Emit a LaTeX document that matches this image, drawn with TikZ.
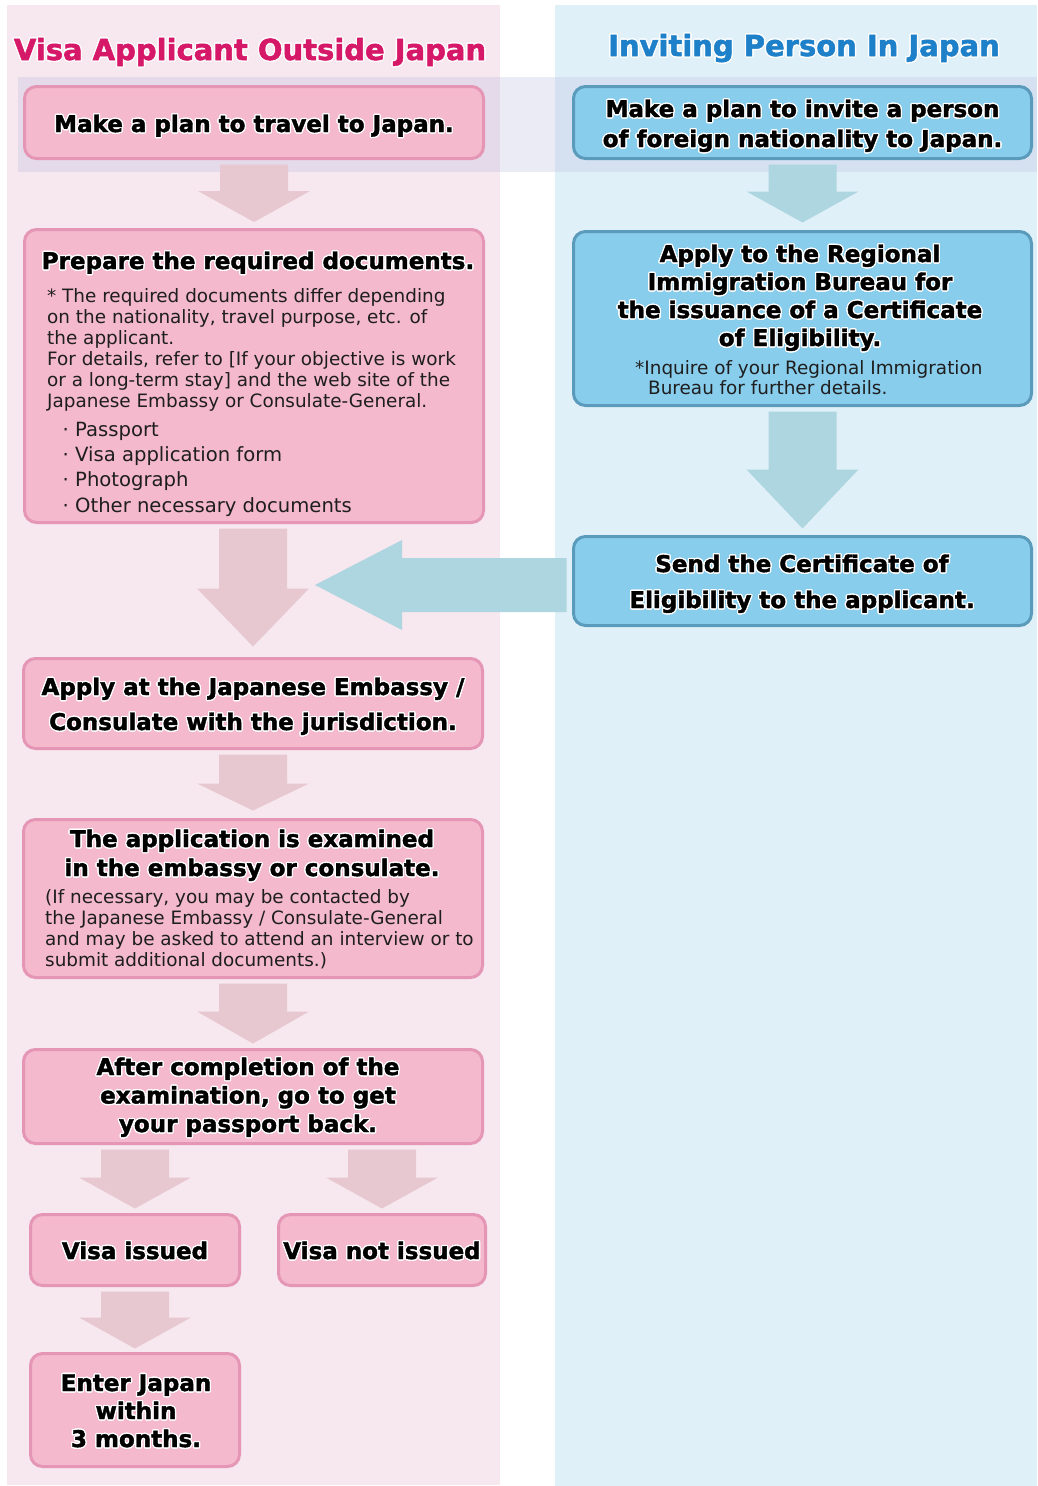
\documentclass[tikz,border=0pt]{standalone}
\usepackage{fontspec}
\setmainfont{DejaVu Sans}[BoldFeatures={FakeBold=1.8}]
\usepackage[copies]{contour}
\contourlength{1.3pt}
\contournumber{16}
\usetikzlibrary{calc}

\definecolor{pinkbg}{RGB}{247,231,238}
\definecolor{bluebg}{RGB}{224,240,248}
\definecolor{pinkbox}{RGB}{244,185,205}
\definecolor{pinkedge}{RGB}{228,150,180}
\definecolor{bluebox}{RGB}{137,205,237}
\definecolor{blueedge}{RGB}{90,155,188}
\definecolor{pinkarrow}{RGB}{232,200,208}
\definecolor{bluearrow}{RGB}{174,214,224}
\definecolor{titlepink}{RGB}{214,24,104}
\definecolor{titleblue}{RGB}{30,128,200}
\definecolor{bandtint}{RGB}{190,190,225}
\definecolor{notegray}{RGB}{30,30,30}

% white halo around bold lettering
\newcommand\halo[1]{\contour{white}{#1}}
% katakana-style middle dot in front of list items
\newcommand\dotitem{\makebox[19pt][c]{·}}

% downward block arrow from one box to the next
% #1 colour, #2 source node, #3 target node, #4 gap before target, #5 head length
\newcommand\flowdown[5]{%
  \fill[#1] let \p1=(#2.south), \p2=(#3.north) in
    (\x2-34pt,\y1-4.5pt) -- (\x2+34pt,\y1-4.5pt) -- (\x2+34pt,\y2+#4+#5)
    -- (\x2+56pt,\y2+#4+#5) -- (\x2,\y2+#4) -- (\x2-56pt,\y2+#4+#5)
    -- (\x2-34pt,\y2+#4+#5) -- cycle;}

\begin{document}
\begin{tikzpicture}[x=1pt,y=-1pt,
  stepbox/.style={draw, line width=3pt, rounded corners=12pt, inner sep=0pt},
  pinkstep/.style={stepbox, fill=pinkbox, draw=pinkedge},
  bluestep/.style={stepbox, fill=bluebox, draw=blueedge},
  % multi-line texts are placed by the baseline of their last line
  headtext/.style={font=\fontsize{23}{#1}\selectfont\bfseries, align=center, inner sep=0pt, anchor=base},
  headtext/.default=29,
  smalltext/.style={font=\fontsize{18.4}{#1}\selectfont, text=notegray, align=left, inner sep=0pt, anchor=base west},
  smalltext/.default=21,
  bulletlist/.style={font=\fontsize{19.6}{25.3}\selectfont, text=notegray, align=left, inner sep=0pt, anchor=base west},
  paneltitle/.style={font=\fontsize{29}{34}\selectfont\bfseries, inner sep=0pt, anchor=base}]

\useasboundingbox (0,0) rectangle (1037,1486);

% panels and the shared first row band
\fill[white] (0,0) rectangle (1037,1486);
\fill[pinkbg] (7,5) rectangle (500,1485);
\fill[bluebg] (555,5) rectangle (1037,1486);
\fill[bandtint, opacity=0.3] (18,77) rectangle (1037,172);

% column titles
\node[paneltitle, text=titlepink] (ltitle) at (250,60) {\halo{Visa Applicant Outside Japan}};
\node[paneltitle, text=titleblue] (rtitle) at (804,56) {\halo{Inviting Person In Japan}};

% applicant column boxes
\node[pinkstep, minimum width=459, minimum height=72]  (plan)    at (254,122.5) {};
\node[pinkstep, minimum width=459, minimum height=293] (docs)    at (254,376) {};
\node[pinkstep, minimum width=459, minimum height=90]  (apply)   at (253,703.5) {};
\node[pinkstep, minimum width=459, minimum height=158] (exam)    at (253,898.5) {};
\node[pinkstep, minimum width=459, minimum height=94]  (done)    at (253,1096.5) {};
\node[pinkstep, minimum width=209, minimum height=71]  (issued)  at (135,1250) {};
\node[pinkstep, minimum width=207, minimum height=71]  (refused) at (382,1250) {};
\node[pinkstep, minimum width=209, minimum height=113] (enter)   at (135,1410) {};

% inviting person column boxes
\node[bluestep, minimum width=458, minimum height=72]  (invite) at (802.5,122.5) {};
\node[bluestep, minimum width=458, minimum height=174] (coe)    at (802.5,318.5) {};
\node[bluestep, minimum width=458, minimum height=89]  (send)   at (802.5,581) {};

% flow arrows
\flowdown{pinkarrow}{plan}{docs}{6pt}{31pt}
\flowdown{pinkarrow}{docs}{apply}{10.5pt}{58pt}
\flowdown{pinkarrow}{apply}{exam}{7.5pt}{27pt}
\flowdown{pinkarrow}{exam}{done}{4.5pt}{32pt}
\flowdown{pinkarrow}{done}{issued}{4.5pt}{31pt}
\flowdown{pinkarrow}{done}{refused}{4.5pt}{31pt}
\flowdown{pinkarrow}{issued}{enter}{3.5pt}{31pt}
\flowdown{bluearrow}{invite}{coe}{7.5pt}{31pt}
\flowdown{bluearrow}{coe}{send}{6.5pt}{59pt}

% certificate handed across to the applicant
\coordinate (meet) at (315,585);
\fill[bluearrow] let \p1=(send.west), \p2=(meet) in
  (\x1-5.5pt,\y2+27pt) -- (\x2+87pt,\y2+27pt) -- (\x2+87pt,\y2+45pt) -- (\p2)
  -- (\x2+87pt,\y2-45pt) -- (\x2+87pt,\y2-27pt) -- (\x1-5.5pt,\y2-27pt) -- cycle;

% applicant column text
\node[headtext] (plantext) at (254,132) {\halo{Make a plan to travel to Japan.}};
\node[headtext] (docshead) at (258,269) {\halo{Prepare the required documents.}};
\node[smalltext] (docsnote) at (47,407) {* The required documents differ depending\\on the nationality, travel purpose, etc. of\\the applicant.\\For details, refer to [If your objective is work\\or a long-term stay] and the web site of the\\Japanese Embassy or Consulate-General.};
\node[bulletlist] (docslist) at (56,512) {\dotitem Passport\\\dotitem Visa application form\\\dotitem Photograph\\\dotitem Other necessary documents};
\node[headtext=35] (applytext) at (253,730) {\halo{Apply at the Japanese Embassy /}\\\halo{Consulate with the jurisdiction.}};
\node[headtext=29] (examhead) at (252,876) {\halo{The application is examined}\\\halo{in the embassy or consulate.}};
\node[smalltext] (examnote) at (45,966) {(If necessary, you may be contacted by\\the Japanese Embassy / Consulate-General\\and may be asked to attend an interview or to\\submit additional documents.)};
\node[headtext=28.5] (donetext) at (248,1132) {\halo{After completion of the}\\\halo{examination, go to get}\\\halo{your passport back.}};
\node[headtext] (issuedtext) at (135,1259) {\halo{Visa issued}};
\node[headtext] (refusedtext) at (382,1259) {\halo{Visa not issued}};
\node[headtext=28] (entertext) at (136,1447) {\halo{Enter Japan}\\\halo{within}\\\halo{3 months.}};

% inviting person column text
\node[headtext=30] (invitetext) at (802.5,147) {\halo{Make a plan to invite a person}\\\halo{of foreign nationality to Japan.}};
\node[headtext=28] (coehead) at (800,346) {\halo{Apply to the Regional}\\\halo{Immigration Bureau for}\\\halo{the issuance of a Certificate}\\\halo{of Eligibility.}};
\node[smalltext=20] (coenote) at (635,394) {*Inquire of your Regional Immigration\\\hspace*{13pt}Bureau for further details.};
\node[headtext=36] (sendtext) at (802,608) {\halo{Send the Certificate of}\\\halo{Eligibility to the applicant.}};

\end{tikzpicture}
\end{document}
